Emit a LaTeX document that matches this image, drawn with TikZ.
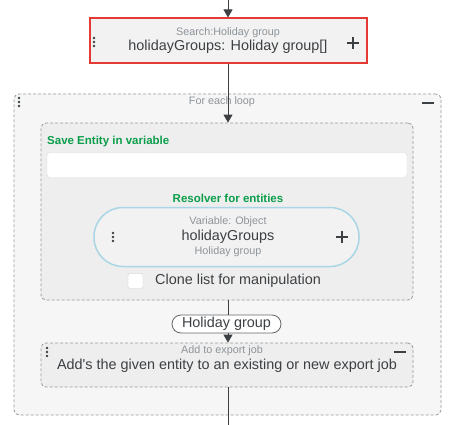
\documentclass[tikz,border=0pt]{standalone}
\usepackage{fontspec}
\setmainfont{Liberation Sans}
\usetikzlibrary{arrows.meta}
\definecolor{redb}{HTML}{E53935}
\definecolor{boxfill}{HTML}{F2F2F2}
\definecolor{loopfill}{HTML}{F6F6F6}
\definecolor{innerfill}{HTML}{EEEEEE}
\definecolor{greent}{HTML}{0A9E4A}
\definecolor{lightt}{HTML}{8E9499}
\definecolor{darkt}{HTML}{3C4043}
\definecolor{pillb}{HTML}{A9D6E5}
\definecolor{linec}{HTML}{3C4043}
\definecolor{dashc}{HTML}{9A9A9A}
\tikzset{
  x=1pt, y=-1pt,
  dashbox/.style={draw=dashc, dash pattern=on 3pt off 2pt, rounded corners=5pt, line width=0.8pt, inner sep=0pt},
  smalltxt/.style={text=lightt, font=\fontsize{10.8}{12}\selectfont, inner sep=0pt},
  maintxt/.style={text=darkt, font=\fontsize{14.4}{16}\selectfont, inner sep=0pt},
  greentxt/.style={text=greent, font=\bfseries\fontsize{11.5}{13}\selectfont, inner sep=0pt},
  conn/.style={draw=linec, line width=0.9pt},
  arr/.style={conn, -{Triangle[length=8pt,width=9pt]}},
  icon/.style={draw=darkt, line width=1.6pt},
}
\newcommand\kebab[2]{\fill[darkt] (#1,#2-4) circle (1.4pt) (#1,#2) circle (1.4pt) (#1,#2+4) circle (1.4pt);}
\newcommand\plusicon[2]{\draw[icon] (#1-6,#2) -- (#1+6,#2) (#1,#2-6) -- (#1,#2+6);}
\newcommand\minusicon[2]{\draw[icon] (#1-6,#2) -- (#1+6,#2);}
\begin{document}
\begin{tikzpicture}
\useasboundingbox[fill=white] (0,0) rectangle (460,425);
% outer loop
\node[dashbox, fill=loopfill, minimum width=427pt, minimum height=321pt] (loop) at (227.5,254.5) {};
\node[smalltxt] (looplbl) at (222,102) {For each loop};
\kebab{19}{102}
\minusicon{428}{103}
% search box
\node[draw=redb, line width=2pt, fill=boxfill, minimum width=277pt, minimum height=45pt, inner sep=0pt] (search) at (228,41) {};
\node[smalltxt] (searchlbl) at (228,33) {Search:Holiday group};
\node[maintxt] (searchtxt) at (228,47) {holidayGroups: Holiday group[]};
\kebab{94}{42}
\plusicon{353}{43}
% save entity box
\node[dashbox, fill=innerfill, minimum width=372pt, minimum height=177pt] (save) at (227,211.5) {};
\node[greentxt, anchor=west] (savelbl) at (47,142) {Save Entity in variable};
\node[draw=black!15, fill=white, rounded corners=3pt, minimum width=360pt, minimum height=25pt, inner sep=0pt] (input) at (227,165) {};
\node[greentxt] (reslbl) at (228,198) {Resolver for entities};
\node[draw=pillb, line width=1.5pt, fill=boxfill, rounded corners=29pt, minimum width=265pt, minimum height=59pt, inner sep=0pt] (resolver) at (226.5,237) {};
\node[smalltxt] (varlbl) at (228,222) {Variable: Object};
\node[maintxt] (vartxt) at (228,237) {holidayGroups};
\node[smalltxt] (vartype) at (228,252) {Holiday group};
\kebab{113}{237}
\plusicon{342}{237}
\node[draw=black!20, fill=white, rounded corners=2pt, minimum size=15pt, inner sep=0pt] (check) at (135.5,281) {};
\node[maintxt, anchor=west] (checktxt) at (155,281) {Clone list for manipulation};
% holiday group pill
\node[draw=darkt!80, line width=0.8pt, fill=white, rounded corners=9pt, minimum width=109pt, minimum height=18pt, inner sep=0pt] (hpill) at (226.5,324) {};
\node[maintxt] (hpilltxt) at (226.5,324) {Holiday group};
% add box
\node[dashbox, fill=innerfill, minimum width=372pt, minimum height=44pt] (add) at (227,365) {};
\node[smalltxt] (addlbl) at (222,351) {Add to export job};
\node[maintxt] (addtxt) at (227,366) {Add\textquotesingle s the given entity to an existing or new export job};
\kebab{47}{352}
\minusicon{400}{352}
% connectors
\coordinate (top) at (228,0);
\coordinate (bot) at (228,425);
\draw[arr] (top) -- (search.north -| top);
\draw[arr] (search.south -| top) -- (save.north -| top);
\draw[conn] (save.south -| top) -- (hpill.north -| top);
\draw[arr] (hpill.south -| top) -- (add.north -| top);
\draw[conn] (add.south -| top) -- (bot);
\end{tikzpicture}
\end{document}
